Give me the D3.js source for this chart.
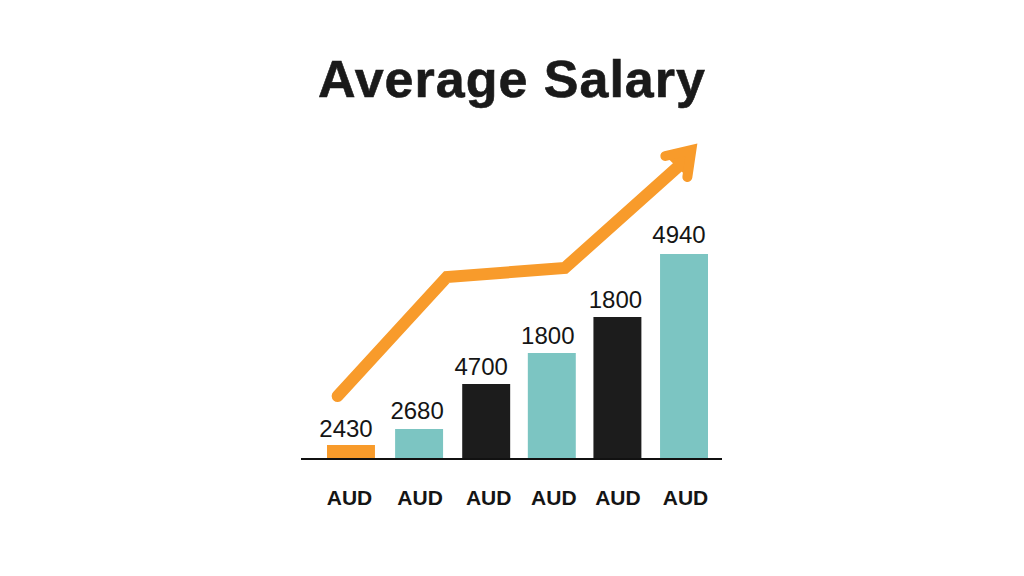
<!DOCTYPE html>
<html>
<head>
<meta charset="utf-8">
<script src="https://cdn.jsdelivr.net/npm/d3@7"></script>
<style>
  html, body { margin: 0; background: #fff; }
  svg { display: block; }
  text { font-family: "Liberation Sans", Arial, sans-serif; }
</style>
</head>
<body>
<svg id="chart" width="1024" height="576"></svg>
<script>
const title = 'Average Salary';
const categories = ['AUD', 'AUD', 'AUD', 'AUD', 'AUD', 'AUD'];
// printed labels do not follow the bar heights in the picture, so both are kept
const valueLabels = ['2430', '2680', '4700', '1800', '1800', '4940'];
const barHeights = [14, 30, 75, 106, 142, 205];
const barKinds = ['orange', 'teal', 'black', 'teal', 'black', 'teal'];

// trend arrow, x in bar positions, y in the same units as barHeights
const trendX = [-0.2, 1.44, 3.21, 5.04];
const trendY = [63, 182, 191, 300];
const headX = [4.72, 5.11, 5.05];
const headY = [303, 309, 282];

const colors = { orange: '#f89b2b', teal: '#7cc5c2', black: '#1c1c1c' };
const barNudge = [0, 1.5, 2, 1, 0, 0];
const valueNudge = [-5, -2, -5, -4, -2, -5];
const valueGap = [8, 10, 9, 9, 9, 11];
const axisNudge = [-1.5, 2.5, 4.5, 3, 0.5, 1.5];

const svg = d3.select('#chart');
const baseY = 459;

const x = d3.scaleBand()
  .domain(d3.range(categories.length))
  .range([327, 708])
  .paddingInner(0.28);
const y = d3.scaleLinear().domain([0, 205]).range([baseY, baseY - 205]);
const xPos = d3.scaleLinear()
  .domain([0, categories.length - 1])
  .range([x(0) + x.bandwidth() / 2, x(5) + x.bandwidth() / 2]);

svg.append('text')
  .attr('x', 512)
  .attr('y', 97)
  .attr('text-anchor', 'middle')
  .attr('font-size', 52)
  .attr('font-weight', 700)
  .attr('letter-spacing', 1)
  .attr('fill', '#1a1a1a')
  .attr('stroke', '#1a1a1a')
  .attr('stroke-width', 0.6)
  .text(title);

svg.append('g')
  .selectAll('rect')
  .data(barHeights)
  .enter()
  .append('rect')
  .attr('x', (d, i) => x(i) + barNudge[i])
  .attr('y', d => y(d))
  .attr('width', x.bandwidth())
  .attr('height', d => baseY - y(d))
  .attr('fill', (d, i) => colors[barKinds[i]]);

svg.append('g')
  .selectAll('text')
  .data(valueLabels)
  .enter()
  .append('text')
  .attr('x', (d, i) => x(i) + x.bandwidth() / 2 + barNudge[i] + valueNudge[i])
  .attr('y', (d, i) => y(barHeights[i]) - valueGap[i])
  .attr('text-anchor', 'middle')
  .attr('font-size', 24)
  .attr('fill', '#151515')
  .text(d => d);

// baseline reaches past the band range, so it is drawn apart from the axis
svg.append('line')
  .attr('x1', 301)
  .attr('x2', 722)
  .attr('y1', baseY)
  .attr('y2', baseY)
  .attr('stroke', '#111')
  .attr('stroke-width', 2);

const xAxis = d3.axisBottom(x)
  .tickSize(0)
  .tickPadding(31)
  .tickFormat(i => categories[i]);
const axisG = svg.append('g')
  .attr('transform', `translate(0,${baseY})`)
  .call(xAxis);
axisG.select('.domain').remove();
axisG.selectAll('text')
  .attr('dx', (d, i) => axisNudge[i])
  .attr('font-family', '"Liberation Sans", Arial, sans-serif')
  .attr('font-size', 21)
  .attr('font-weight', 700)
  .attr('fill', '#151515');

const line = d3.line()
  .x(d => xPos(d[0]))
  .y(d => y(d[1]));

svg.append('path')
  .attr('d', line(d3.zip(trendX, trendY)))
  .attr('fill', 'none')
  .attr('stroke', colors.orange)
  .attr('stroke-width', 12)
  .attr('stroke-linecap', 'round')
  .attr('stroke-linejoin', 'miter');

// open path, the fill closes the wedge behind the two barbs
svg.append('path')
  .attr('d', line(d3.zip(headX, headY)))
  .attr('fill', colors.orange)
  .attr('stroke', colors.orange)
  .attr('stroke-width', 10)
  .attr('stroke-linecap', 'round')
  .attr('stroke-linejoin', 'miter');
</script>
</body>
</html>
